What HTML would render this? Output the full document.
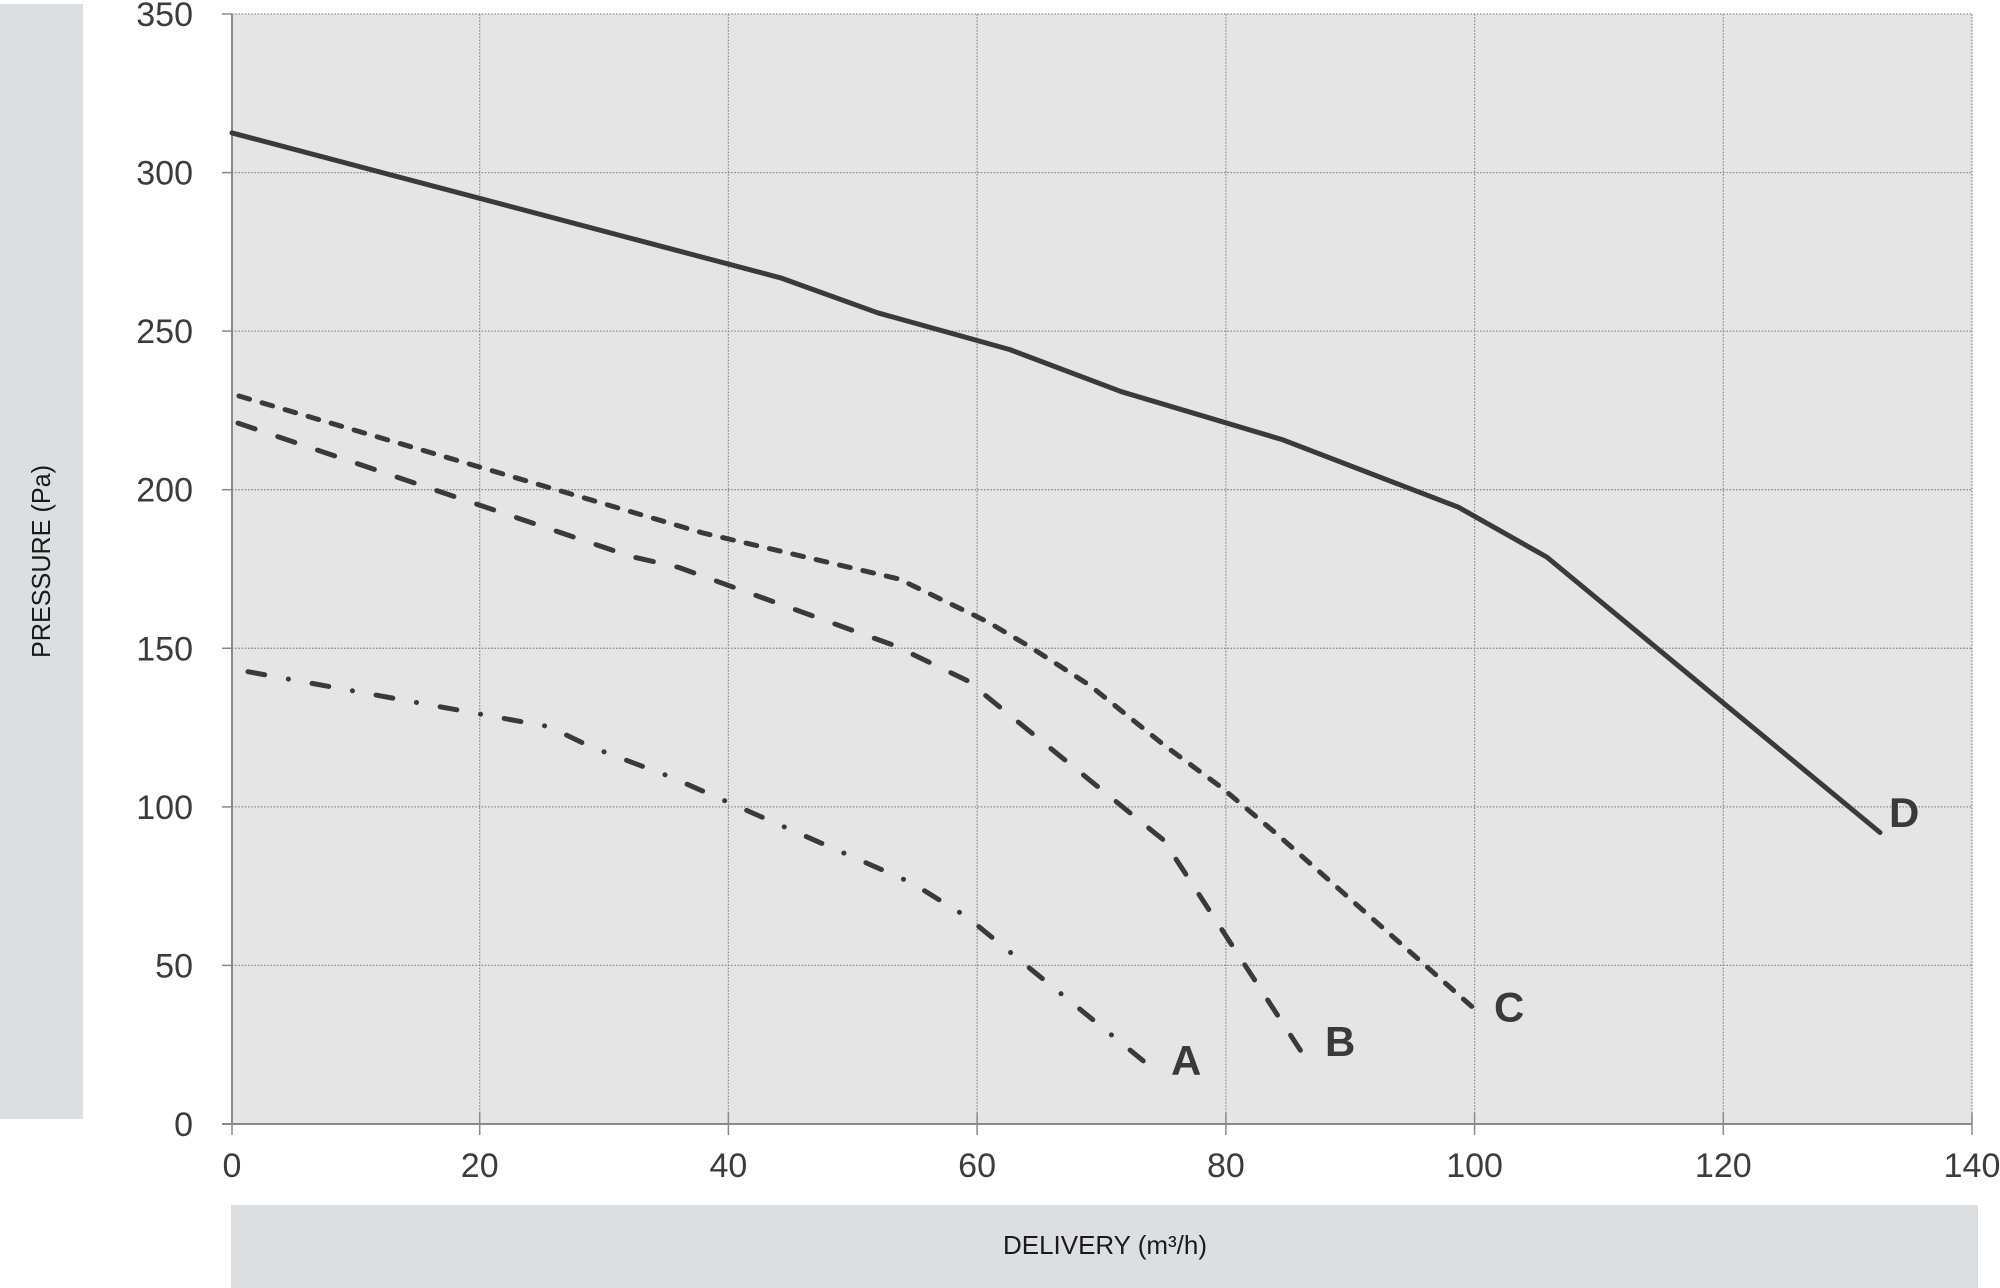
<!DOCTYPE html>
<html><head><meta charset="utf-8"><style>
html,body{margin:0;padding:0;background:#fff;}
svg{display:block;}
text{font-family:"Liberation Sans",Arial,sans-serif;}
</style></head><body>
<svg width="2000" height="1288" viewBox="0 0 2000 1288" xmlns="http://www.w3.org/2000/svg">
<rect x="0" y="0" width="2000" height="1288" fill="#fff"/>
<!-- side label bars -->
<rect x="0" y="4" width="83" height="1115" fill="#dddee0"/>
<rect x="231" y="1205" width="1747" height="83" fill="#dddee0"/>
<!-- plot background -->
<rect x="231" y="14" width="1741" height="1110" fill="#e5e5e5"/>
<!-- horizontal grid -->
<g stroke="#8f8f8f" stroke-width="1.3" stroke-dasharray="1.6 1.6" fill="none">
<line x1="232" y1="14" x2="1972" y2="14"/>
<line x1="232" y1="172.6" x2="1972" y2="172.6"/>
<line x1="232" y1="331.1" x2="1972" y2="331.1"/>
<line x1="232" y1="489.7" x2="1972" y2="489.7"/>
<line x1="232" y1="648.3" x2="1972" y2="648.3"/>
<line x1="232" y1="806.9" x2="1972" y2="806.9"/>
<line x1="232" y1="965.4" x2="1972" y2="965.4"/>
<!-- vertical grid -->
<line x1="479.7" y1="14" x2="479.7" y2="1124"/>
<line x1="728.4" y1="14" x2="728.4" y2="1124"/>
<line x1="977.1" y1="14" x2="977.1" y2="1124"/>
<line x1="1225.9" y1="14" x2="1225.9" y2="1124"/>
<line x1="1474.6" y1="14" x2="1474.6" y2="1124"/>
<line x1="1723.3" y1="14" x2="1723.3" y2="1124"/>
<line x1="1972" y1="14" x2="1972" y2="1124"/>
</g>
<!-- axes -->
<g stroke="#8a8a8a" fill="none">
<line x1="232" y1="14" x2="232" y2="1125" stroke-width="2"/>
<line x1="222" y1="1124" x2="1972" y2="1124" stroke-width="2"/>
<g stroke-width="1.5">
<line x1="222" y1="14" x2="232" y2="14"/>
<line x1="222" y1="172.6" x2="232" y2="172.6"/>
<line x1="222" y1="331.1" x2="232" y2="331.1"/>
<line x1="222" y1="489.7" x2="232" y2="489.7"/>
<line x1="222" y1="648.3" x2="232" y2="648.3"/>
<line x1="222" y1="806.9" x2="232" y2="806.9"/>
<line x1="222" y1="965.4" x2="232" y2="965.4"/>
<line x1="232" y1="1113" x2="232" y2="1135"/>
<line x1="479.7" y1="1113" x2="479.7" y2="1135"/>
<line x1="728.4" y1="1113" x2="728.4" y2="1135"/>
<line x1="977.1" y1="1113" x2="977.1" y2="1135"/>
<line x1="1225.9" y1="1113" x2="1225.9" y2="1135"/>
<line x1="1474.6" y1="1113" x2="1474.6" y2="1135"/>
<line x1="1723.3" y1="1113" x2="1723.3" y2="1135"/>
<line x1="1972" y1="1113" x2="1972" y2="1135"/>
</g>
</g>
<!-- y tick labels -->
<g fill="#3c3c3c" font-size="34" text-anchor="end">
<text x="193" y="26">350</text>
<text x="193" y="184.6">300</text>
<text x="193" y="343.1">250</text>
<text x="193" y="501.7">200</text>
<text x="193" y="660.3">150</text>
<text x="193" y="818.9">100</text>
<text x="193" y="977.4">50</text>
<text x="193" y="1136">0</text>
</g>
<!-- x tick labels -->
<g fill="#3c3c3c" font-size="34" text-anchor="middle">
<text x="232" y="1177">0</text>
<text x="479.7" y="1177">20</text>
<text x="728.4" y="1177">40</text>
<text x="977.1" y="1177">60</text>
<text x="1225.9" y="1177">80</text>
<text x="1474.6" y="1177">100</text>
<text x="1723.3" y="1177">120</text>
<text x="1972" y="1177">140</text>
</g>
<!-- axis titles -->
<text x="1105" y="1254" font-size="26" fill="#1a1a1a" text-anchor="middle" textLength="204" lengthAdjust="spacingAndGlyphs">DELIVERY (m³/h)</text>
<text transform="translate(50,561.5) rotate(-90)" x="0" y="0" font-size="26" fill="#1a1a1a" text-anchor="middle" textLength="193" lengthAdjust="spacingAndGlyphs">PRESSURE (Pa)</text>
<!-- series -->
<g fill="none" stroke="#3a3a3a" stroke-width="5" stroke-linejoin="round">
<!-- D solid -->
<polyline stroke-linecap="round" points="232,132.9 780.7,277.9 877.7,312.8 1009.5,349.5 1121.4,391.7 1283.1,439.9 1458.4,507.2 1546.7,557 1880,832.5"/>
<!-- C short dashes -->
<polyline stroke-linecap="round" stroke-dasharray="11 13" points="239,396 703,533 899,579 987,621.5 1028.6,646 1089.7,685.3 1163.4,744.6 1221.4,787.4 1277.2,834.4 1473.7,1008.2"/>
<!-- B long dashes -->
<polyline stroke-linecap="round" stroke-dasharray="18 24" points="238,423.1 631.4,556.6 678.7,567.4 895.1,645.8 967.2,680.6 1163.7,840.2 1301.7,1052.3"/>
<!-- A dash-dot -->
<polyline stroke-linecap="round" stroke-dasharray="17 24 0.1 24" points="248,671.7 549.2,726.7 590,746.5 670,776.7 912,883 967,917 1152,1068"/>
</g>
<!-- curve labels -->
<g fill="#3a3a3a" font-size="42" font-weight="bold">
<text x="1171" y="1075">A</text>
<text x="1325" y="1056">B</text>
<text x="1494" y="1021.6">C</text>
<text x="1889" y="827">D</text>
</g>
</svg>
</body></html>
